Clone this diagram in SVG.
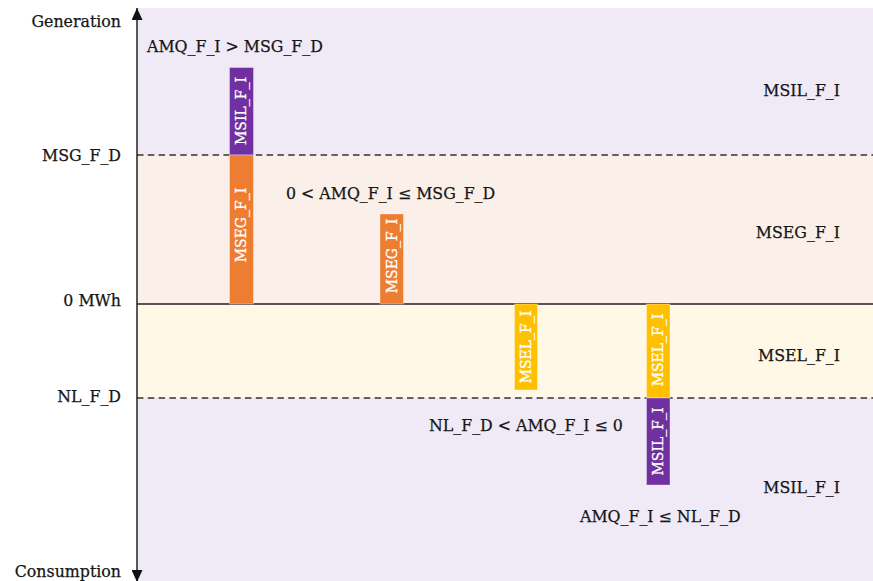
<svg xmlns="http://www.w3.org/2000/svg" width="873" height="581" viewBox="0 0 873 581">
<style>
text{font-family:"DejaVu Serif","Liberation Serif",serif;fill:#151515;stroke:#151515;stroke-width:0.25;font-size:15.8px}
.r{text-anchor:end}
.bl{font-size:14px;fill:#ffffff;stroke:#ffffff;stroke-width:0.3;text-anchor:middle}
.dash{stroke:#333;stroke-width:1.4;stroke-dasharray:6.5 4.3;fill:none}
.solid{stroke:#222;stroke-width:1.6;fill:none}
.bar{stroke-width:1;stroke:#ffffff;stroke-opacity:0.35}
.p{fill:#7030A0}.o{fill:#ED7D31}.y{fill:#FFC000}
</style>
<defs>
<marker id="ah" viewBox="0 0 12 11" refX="12" refY="5.5" markerWidth="12" markerHeight="11" markerUnits="userSpaceOnUse" orient="auto">
<path d="M0,0 L12,5.5 L0,11 z" fill="#111"/>
</marker>
</defs>
<rect width="873" height="581" fill="#ffffff"/>
<g id="bands">
<rect x="137" y="8" width="736" height="147" fill="#EFEAF5"/>
<rect x="137" y="155" width="736" height="149" fill="#FBF0E9"/>
<rect x="137" y="304" width="736" height="94" fill="#FFF8E7"/>
<rect x="137" y="398" width="736" height="183" fill="#EFEAF5"/>
</g>
<g id="connectors">
<line class="dash" x1="137" y1="155" x2="873" y2="155"/>
<line class="solid" x1="137" y1="304" x2="873" y2="304"/>
<line class="dash" x1="137" y1="398" x2="873" y2="398"/>
<line x1="137" y1="300" x2="137" y2="8" stroke="#222" stroke-width="1.5" marker-end="url(#ah)"/>
<line x1="137" y1="300" x2="137" y2="582" stroke="#222" stroke-width="1.5" marker-end="url(#ah)"/>
</g>
<g id="axis-labels">
<text class="r" x="121" y="27">Generation</text>
<text class="r" x="121" y="161">MSG_F_D</text>
<text class="r" x="121" y="306">0 MWh</text>
<text class="r" x="121" y="402">NL_F_D</text>
<text class="r" x="121" y="577">Consumption</text>
</g>
<g id="zone-labels">
<text class="r" x="840" y="96">MSIL_F_I</text>
<text class="r" x="840" y="238">MSEG_F_I</text>
<text class="r" x="840" y="361">MSEL_F_I</text>
<text class="r" x="840" y="493">MSIL_F_I</text>
</g>
<g id="conditions">
<text x="147" y="52">AMQ_F_I &gt; MSG_F_D</text>
<text x="286" y="199">0 &lt; AMQ_F_I ≤ MSG_F_D</text>
<text x="429" y="431">NL_F_D &lt; AMQ_F_I ≤ 0</text>
<text x="580" y="522">AMQ_F_I ≤ NL_F_D</text>
</g>
<g id="bar1-msil">
<rect class="bar p" x="229.5" y="67.5" width="24" height="87.5"/>
<text class="bl" transform="translate(246,111) rotate(-90)">MSIL_F_I</text>
</g>
<g id="bar1-mseg">
<rect class="bar o" x="229.5" y="155" width="24" height="149"/>
<text class="bl" transform="translate(246,225) rotate(-90)">MSEG_F_I</text>
</g>
<g id="bar2-mseg">
<rect class="bar o" x="380" y="214" width="23.5" height="90"/>
<text class="bl" transform="translate(396.5,256) rotate(-90)">MSEG_F_I</text>
</g>
<g id="bar3-msel">
<rect class="bar y" x="514.5" y="304" width="23" height="86"/>
<text class="bl" transform="translate(530.5,347) rotate(-90)">MSEL_F_I</text>
</g>
<g id="bar4-msel">
<rect class="bar y" x="646.5" y="304" width="23.5" height="94"/>
<text class="bl" transform="translate(663,350) rotate(-90)">MSEL_F_I</text>
</g>
<g id="bar4-msil">
<rect class="bar p" x="646.5" y="398" width="23.5" height="87"/>
<text class="bl" transform="translate(663,441.5) rotate(-90)">MSIL_F_I</text>
</g>
</svg>
